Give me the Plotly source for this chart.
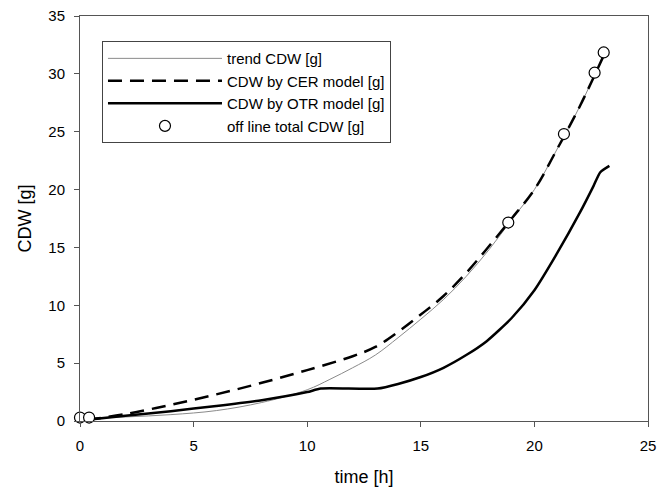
import plotly.graph_objects as go

# trend CDW [g]
t_trend = [0, 2, 4, 6, 8, 10, 11, 12, 13, 14, 15, 16, 17, 18, 19, 20, 21, 22, 23.1]
y_trend = [0.2, 0.35, 0.55, 0.9, 1.6, 2.7, 3.6, 4.6, 5.7, 7.2, 8.8, 10.5, 12.5, 14.8, 17.4, 20.0, 23.5, 27.2, 31.8]

# CDW by CER model [g]
t_cer = [0.3, 2, 4, 6, 8, 10, 12, 13, 14, 15, 16, 17, 18, 19, 20, 21, 22, 23.1]
y_cer = [0.1, 0.6, 1.4, 2.3, 3.3, 4.4, 5.6, 6.4, 7.7, 9.2, 10.8, 12.8, 15.1, 17.5, 20.0, 23.5, 27.2, 31.8]

# CDW by OTR model [g]
t_otr = [0.3, 2, 4, 6, 8, 10, 10.6, 13.1, 14, 15, 16, 17, 17.9, 19, 20, 21, 22, 22.6, 22.9, 23.3]
y_otr = [0.1, 0.45, 0.85, 1.3, 1.8, 2.5, 2.8, 2.8, 3.2, 3.8, 4.6, 5.7, 6.9, 8.9, 11.3, 14.5, 18.0, 20.3, 21.5, 22.05]

# off line total CDW [g]
t_off = [0, 0.4, 18.85, 21.3, 22.65, 23.05]
y_off = [0.3, 0.3, 17.15, 24.8, 30.1, 31.85]

x_ticks = [0, 5, 10, 15, 20, 25]
y_ticks = [0, 5, 10, 15, 20, 25, 30, 35]

FONT = "Liberation Sans, Arial, sans-serif"

fig = go.Figure()
fig.add_trace(go.Scatter(x=t_trend, y=y_trend, mode="lines", name="trend CDW [g]",
                         line=dict(color="#8a8a8a", width=1, shape="spline")))
fig.add_trace(go.Scatter(x=t_cer, y=y_cer, mode="lines", name="CDW by CER model [g]",
                         line=dict(color="black", width=2.5, dash="14px,8px", shape="spline")))
fig.add_trace(go.Scatter(x=t_otr, y=y_otr, mode="lines", name="CDW by OTR model [g]",
                         line=dict(color="black", width=2.5, shape="spline", smoothing=0.6)))
fig.add_trace(go.Scatter(x=t_off, y=y_off, mode="markers", name="off line total CDW [g]",
                         marker=dict(symbol="circle", size=11, color="white",
                                     line=dict(color="black", width=1.2)),
                         cliponaxis=False))

axis_common = dict(showline=True, linecolor="#555555", linewidth=1, mirror=True,
                   ticks="outside", ticklen=5, tickcolor="#555555", showgrid=False,
                   zeroline=False, automargin=False, ticklabelstandoff=6,
                   ticklabeloverflow="allow",
                   tickfont=dict(family=FONT, size=15, color="black"))

fig.update_layout(
    width=663, height=483,
    margin=dict(l=72, r=23, t=8, b=70),
    paper_bgcolor="white", plot_bgcolor="white",
    font=dict(family=FONT, color="black"),
    xaxis=dict(range=[0, 25], tickvals=x_ticks,
               title=dict(text="time [h]", font=dict(size=18), standoff=17), **axis_common),
    yaxis=dict(range=[0, 35], tickvals=y_ticks,
               title=dict(text="CDW [g]", font=dict(size=18), standoff=12), **axis_common),
    legend=dict(x=0.0387, y=0.938, xanchor="left", yanchor="top",
                bordercolor="#444444", borderwidth=1, bgcolor="white",
                font=dict(size=15), itemwidth=114),
    showlegend=True,
)

fig.write_html("out.html")
